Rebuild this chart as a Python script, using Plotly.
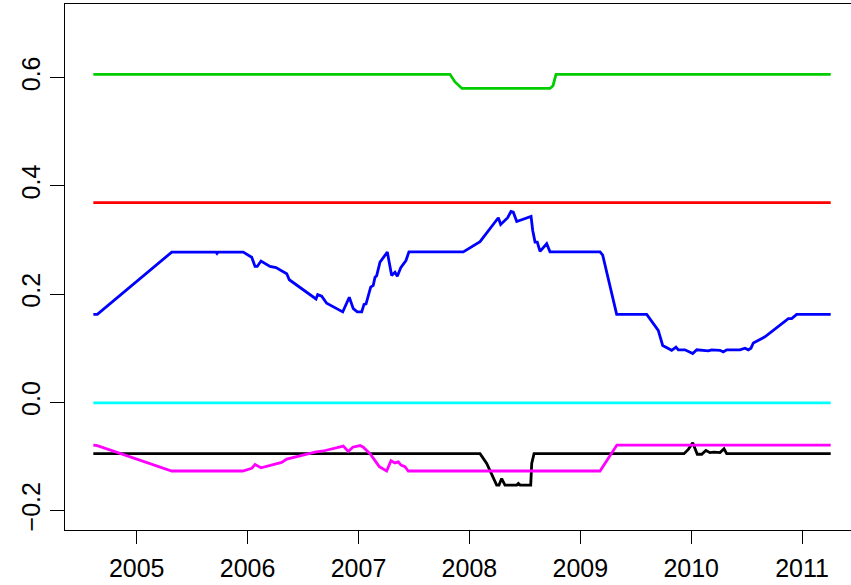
import plotly.graph_objects as go

# ---- data (year, value) ----
black_x = [2004.609, 2008.096, 2008.156, 2008.246, 2008.267, 2008.291, 2008.321, 2008.427,
           2008.442, 2008.457, 2008.553, 2008.562, 2008.583, 2009.935, 2009.974, 2010.014,
           2010.055, 2010.095, 2010.133, 2010.169, 2010.205, 2010.260, 2010.296, 2010.320, 2011.258]
black_y = [-0.095, -0.095, -0.113, -0.153, -0.153, -0.141, -0.153, -0.153,
           -0.150, -0.153, -0.153, -0.113, -0.095, -0.095, -0.087, -0.075,
           -0.096, -0.096, -0.089, -0.093, -0.092, -0.093, -0.086, -0.095, -0.095]

red_x = [2004.609, 2011.258]
red_y = [0.369, 0.369]

green_x = [2004.609, 2007.825, 2007.870, 2007.933, 2008.727, 2008.754, 2008.781, 2011.258]
green_y = [0.606, 0.606, 0.592, 0.580, 0.580, 0.585, 0.606, 0.606]

blue_x = [2004.609, 2004.645, 2005.316, 2005.715, 2005.724, 2005.733, 2005.961, 2005.992,
          2006.037, 2006.067, 2006.087, 2006.121, 2006.202, 2006.256, 2006.292, 2006.353,
          2006.376, 2006.617, 2006.632, 2006.668, 2006.713, 2006.858, 2006.917, 2006.953,
          2006.989, 2007.029, 2007.050, 2007.068, 2007.110, 2007.133, 2007.149, 2007.164,
          2007.194, 2007.260, 2007.299, 2007.329, 2007.350, 2007.381, 2007.428, 2007.455,
          2007.945, 2008.096, 2008.261, 2008.282, 2008.345, 2008.375, 2008.396, 2008.427,
          2008.556, 2008.571, 2008.592, 2008.612, 2008.637, 2008.666, 2008.697, 2008.727,
          2009.178, 2009.202, 2009.328, 2009.599, 2009.703, 2009.743, 2009.824, 2009.863,
          2009.884, 2009.944, 2010.014, 2010.050, 2010.109, 2010.154, 2010.185, 2010.260,
          2010.289, 2010.320, 2010.440, 2010.485, 2010.515, 2010.539, 2010.560, 2010.665,
          2010.876, 2010.906, 2010.951, 2011.258]
blue_y = [0.1625, 0.1625, 0.2775, 0.2775, 0.275, 0.2775, 0.2775, 0.273,
          0.268, 0.251, 0.251, 0.261, 0.251, 0.249, 0.245, 0.2375,
          0.2265, 0.191, 0.199, 0.196, 0.183, 0.167, 0.194, 0.173,
          0.167, 0.167, 0.181, 0.182, 0.213, 0.216, 0.231, 0.234,
          0.259, 0.2775, 0.2345, 0.2405, 0.233, 0.2487, 0.262, 0.278,
          0.278, 0.297, 0.341, 0.3286, 0.341, 0.3526, 0.3513, 0.334,
          0.3434, 0.3175, 0.296, 0.296, 0.279, 0.2867, 0.293, 0.278,
          0.278, 0.272, 0.1625, 0.1625, 0.133, 0.105, 0.096, 0.102,
          0.097, 0.097, 0.090, 0.097, 0.096, 0.095, 0.097, 0.096,
          0.093, 0.097, 0.097, 0.100, 0.097, 0.100, 0.1095, 0.121,
          0.1545, 0.1545, 0.1625, 0.1625]

cyan_x = [2004.609, 2011.258]
cyan_y = [-0.001, -0.001]

magenta_x = [2004.609, 2004.645, 2005.316, 2005.956, 2006.037, 2006.067, 2006.121, 2006.232,
             2006.307, 2006.353, 2006.608, 2006.683, 2006.743, 2006.863, 2006.908, 2006.948,
             2007.014, 2007.043, 2007.104, 2007.188, 2007.254, 2007.293, 2007.329, 2007.359,
             2007.383, 2007.419, 2007.449, 2009.178, 2009.330, 2011.258]
magenta_y = [-0.079, -0.080, -0.127, -0.127, -0.122, -0.115, -0.121, -0.115,
             -0.111, -0.105, -0.092, -0.090, -0.087, -0.081, -0.091, -0.083,
             -0.080, -0.083, -0.095, -0.119, -0.127, -0.108, -0.112, -0.110,
             -0.116, -0.119, -0.127, -0.127, -0.079, -0.079]

x_ticks = [2005, 2006, 2007, 2008, 2009, 2010, 2011]
y_ticks = [-0.2, 0.0, 0.2, 0.4, 0.6]

series = [
    (black_x, black_y, "#000000"),
    (red_x, red_y, "#FF0000"),
    (green_x, green_y, "#00CD00"),
    (blue_x, blue_y, "#0000FF"),
    (cyan_x, cyan_y, "#00FFFF"),
    (magenta_x, magenta_y, "#FF00FF"),
]

fig = go.Figure()
for xs, ys, col in series:
    fig.add_trace(go.Scatter(x=xs, y=ys, mode="lines",
                             line=dict(color=col, width=2.8),
                             showlegend=False, hoverinfo="skip"))

font = dict(family="Liberation Sans, Arial, Helvetica, sans-serif", size=25, color="black")

fig.update_layout(
    width=851, height=585,
    margin=dict(l=65, r=0, t=4, b=55, pad=0, autoexpand=False),
    paper_bgcolor="white", plot_bgcolor="white",
    font=font,
    xaxis=dict(range=[2004.3535, 2011.441], tickvals=x_ticks,
               ticktext=[str(v) for v in x_ticks],
               showgrid=False, zeroline=False, automargin=False,
               showline=True, linecolor="black", linewidth=1, mirror=True,
               ticks="outside", ticklen=13, tickwidth=1, tickcolor="black",
               ticklabelstandoff=3, tickfont=font),
    yaxis=dict(range=[-0.236, 0.736], tickvals=y_ticks, tickformat=".1f",
               showgrid=False, zeroline=False, automargin=False,
               showline=True, linecolor="black", linewidth=1, mirror=False,
               ticks="outside", ticklen=14, tickwidth=1, tickcolor="black",
               tickangle=-90, tickfont=font),
)

fig.write_html("out.html",
               config={"displayModeBar": False, "staticPlot": True},
               post_script="document.body.style.margin='0';document.body.style.padding='0';")
